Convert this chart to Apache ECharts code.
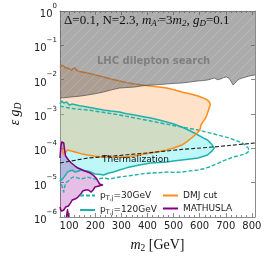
<!DOCTYPE html>
<html><head><meta charset="utf-8">
<script src="https://cdn.jsdelivr.net/npm/echarts@6/dist/echarts.min.js"></script>
<style>html,body{margin:0;padding:0;background:#fff}#c{width:266px;height:259px}</style>
</head><body><div id="c"></div>
<script>
// ---- data (m2 [GeV], eps*g_D) ----
const lhcBoundary = [[65,2.92e-3],[85,3.0e-3],[108,3.13e-3],[140,3.3e-3],[170,3.57e-3],[200,3.9e-3],[232,4.37e-3],[260,5.0e-3],[293,5.71e-3],[320,5.9e-3],[351,6.1e-3],[380,6.6e-3],[413,7.0e-3],[445,7.2e-3],[474,7.5e-3],[505,7.8e-3],[532,8.0e-3],[565,8.6e-3],[594,9.2e-3],[615,9.4e-3],[630,9.8e-3],[645,1.05e-2],[656,1.12e-2],[668,1.0e-2],[681,1.05e-2],[692,1.15e-2],[703,1.2e-2],[712,1.1e-2],[717,9.8e-3],[723,8.2e-3],[728,7.0e-3],[733,7.6e-3],[739,8.6e-3],[746,9.8e-3],[753,1.05e-2],[764,1.12e-2],[777,1.2e-2],[790,1.28e-2],[812,1.37e-2]];
const lhcTop = 1;
const dmjCut = [[65,0.0234],[72,0.026],[79.5,0.025],[86,0.022],[94,0.0218],[101,0.0205],[108.5,0.019],[115,0.021],[123,0.0219],[128,0.019],[134,0.0179],[150,0.0168],[170,0.0156],[200,0.0138],[232,0.0120],[260,0.0105],[293,0.00914],[320,0.0082],[351,0.00748],[380,0.0070],[413,0.00654],[445,0.0061],[474,0.00571],[505,0.0050],[532,0.00437],[565,0.0038],[594,0.00334],[615,0.0029],[630,0.00255],[638,0.0022],[641,0.00183],[636,0.0015],[634,0.00131],[628,9.5e-4],[623,7.64e-4],[612,5.8e-4],[605,4.78e-4],[603,4.0e-4],[601,3.42e-4],[587,2.61e-4],[569,2.0e-4],[550,1.55e-4],[532,1.25e-4],[500,1.02e-4],[474,8.93e-5],[440,7.9e-5],[413,7.31e-5],[380,6.6e-5],[351,5.97e-5],[320,5.7e-5],[293,5.58e-5],[260,5.5e-5],[232,5.58e-5],[200,5.9e-5],[170,6.38e-5],[145,7.0e-5],[123,7.81e-5],[105,8.5e-5],[94,8.93e-5],[86,7.5e-5],[79.5,6.8e-5],[75,7.8e-5],[72,8.93e-5],[65,1.02e-4]];
const pT120 = [[65,1.96e-3],[72,2.39e-3],[79.5,2.09e-3],[90,2.23e-3],[101,1.83e-3],[112,1.95e-3],[140,1.75e-3],[170,1.6e-3],[200,1.45e-3],[232,1.31e-3],[260,1.22e-3],[293,1.14e-3],[320,1.02e-3],[351,9.3e-4],[380,8.5e-4],[413,7.64e-4],[445,6.7e-4],[474,5.86e-4],[505,5.0e-4],[532,4.18e-4],[565,3.2e-4],[594,2.44e-4],[612,2.05e-4],[630,1.75e-4],[645,1.35e-4],[656,1.02e-4],[648,8.4e-5],[630,6.38e-5],[594,5.22e-5],[565,4.9e-5],[532,4.57e-5],[500,4.3e-5],[474,4.0e-5],[445,3.85e-5],[413,3.74e-5],[380,3.4e-5],[351,3.05e-5],[320,2.7e-5],[293,2.34e-5],[270,2.05e-5],[253,1.91e-5],[232,1.67e-5],[215,1.75e-5],[199,1.79e-5],[185,2.0e-5],[170,2.19e-5],[158,2.2e-5],[145,2.34e-5],[135,2.15e-5],[123,2.04e-5],[112,2.3e-5],[101,2.18e-5],[93,2.0e-5],[86.7,1.67e-5],[79,1.4e-5],[72,1.19e-5],[65,1.37e-5]];
const pT30 = [[65,1.7e-3],[90,1.55e-3],[120,1.42e-3],[170,1.31e-3],[230,1.12e-3],[293,9.35e-4],[350,7.7e-4],[413,6.25e-4],[470,5.1e-4],[532,4.18e-4],[594,3.42e-4],[656,2.61e-4],[713,2.0e-4],[764,1.43e-4],[786,1.02e-4],[790,8.36e-5],[775,6.83e-5],[746,6.0e-5],[728,5.6e-5],[710,4.89e-5],[690,4.3e-5],[674,3.74e-5],[655,3.3e-5],[637,2.86e-5],[615,2.55e-5],[594,2.34e-5],[565,2.2e-5],[532,2.04e-5],[500,2.0e-5],[474,2.04e-5],[445,1.95e-5],[413,1.91e-5],[380,1.8e-5],[351,1.67e-5],[320,1.55e-5],[293,1.46e-5],[270,1.35e-5],[253,1.28e-5],[232,1.37e-5],[215,1.3e-5],[199,1.28e-5],[185,1.35e-5],[170,1.46e-5],[158,1.35e-5],[145,1.28e-5],[130,1.4e-5],[115.7,1.46e-5],[105,1.3e-5],[97.6,1.12e-5],[86.7,9.8e-6],[82,7.0e-6],[79.5,5.34e-6],[75,7.0e-6],[72,8.54e-6],[65,1.19e-5]];
const mathusla = [[65,5.22e-5],[68.6,1.17e-4],[72,1.53e-4],[79.5,1.43e-4],[83,8.93e-5],[86.7,5.97e-5],[97.6,4.57e-5],[108.5,3.74e-5],[123,3.05e-5],[134,2.67e-5],[152,2.34e-5],[170,2.04e-5],[181,1.91e-5],[192,1.67e-5],[203,1.37e-5],[210,1.12e-5],[217,9.14e-6],[228,8.54e-6],[214,8.0e-6],[199,7.47e-6],[192,6.11e-6],[184.6,5.34e-6],[174,6.11e-6],[163,6.11e-6],[152,5.71e-6],[145,4.67e-6],[134,3.82e-6],[123,3.34e-6],[112,3.12e-6],[105,2.55e-6],[97.6,2.09e-6],[86.7,1.95e-6],[79.5,1.6e-6],[72,1.49e-6],[68.6,1.6e-6],[65,1.95e-6]];
const mathuslaIsland = [[90,1.0e-6],[92,1.31e-6],[94,1.62e-6],[96,1.31e-6],[97.6,1.0e-6]];
const thermalization = [[65,3.74e-5],[170,5.2e-5],[293,6.2e-5],[413,7.5e-5],[532,9.3e-5],[656,1.1e-4],[812,1.43e-4]];
const xRange = [65, 812];
const yRange = [1e-6, 1];
const legendNames = ['pT30', 'pT120', 'DMJ cut', 'MATHUSLA'];

// ---- styling ----
const TEAL = '#1fb2ac', ORANGE = '#ff8c1a', PURPLE = '#800080';
function hatch(){
  const c = document.createElement('canvas'); c.width = 10; c.height = 10;
  const g = c.getContext('2d');
  g.fillStyle = 'rgba(95,95,95,0.52)'; g.fillRect(0,0,10,10);
  g.strokeStyle = 'rgba(255,255,255,0.2)'; g.lineWidth = 0.8;
  g.beginPath(); g.moveTo(0,10); g.lineTo(10,0); g.moveTo(-2,2); g.lineTo(2,-2); g.moveTo(8,12); g.lineTo(12,8); g.stroke();
  return c;
}
const hatchImg = hatch();

function polySeries(pts, fill){
  return {type:'custom', coordinateSystem:'cartesian2d', clip:true, silent:true, data: pts,
    renderItem: function(params, api){
      if (params.dataIndex !== 0) return;
      return {type:'polygon', shape:{points: pts.map(p => api.coord(p))}, style:{fill: fill}};
    }};
}
function lineSeries(pts, color, width, dash){
  return {type:'custom', coordinateSystem:'cartesian2d', clip:true, silent:true, data: pts,
    renderItem: function(params, api){
      if (params.dataIndex !== 0) return;
      return {type:'polyline', shape:{points: pts.map(p => api.coord(p))},
        style:{stroke: color, lineWidth: width, fill: null, lineDash: dash || null, lineJoin:'round'}};
    }};
}
function legendSeries(name, color, dash){
  return {name:name, type:'line', data:[[-1000, 1e-9]], symbol:'none', showSymbol:false, clip:true, silent:true,
    lineStyle:{color:color, width:1.5, type: dash || 'solid'}, itemStyle:{color:color, opacity:0}};
}
const lhcPoly = [[xRange[0], lhcTop]].concat(lhcBoundary, [[xRange[1], lhcTop]]);

const chart = echarts.init(document.getElementById('c'), null, {renderer:'canvas'});
const axisCol = '#8a8a8a';
const tickFont = {fontFamily:'DejaVu Sans', fontSize:10, color:'#222'};
const rich9 = {
  a:{fontFamily:'DejaVu Sans', fontSize:9, color:'#222'},
  s:{fontFamily:'DejaVu Sans', fontSize:6.5, color:'#222', padding:[5,0,0,0]}
};
const legendLabel = {pT30:'{a|p}{s|T,j}{a|=30GeV}', pT120:'{a|p}{s|T,j}{a|=120GeV}', 'DMJ cut':'{a|DMJ cut}', MATHUSLA:'{a|MATHUSLA}'};
const legendCommon = {orient:'vertical', top:191, itemGap:4, itemWidth:15, itemHeight:10, selectedMode:false,
  formatter: n => legendLabel[n], textStyle:{rich:rich9}, padding:0, itemStyle:{opacity:0}};

chart.setOption({
  animation:false,
  grid:{left:48, right:11, top:11, bottom:42},
  xAxis:[{type:'value', min:xRange[0], max:xRange[1], splitNumber:7,
    name:'{i|m}{sub|2}{r| [GeV]}', nameLocation:'middle', nameGap:20,
    nameTextStyle:{rich:{
      i:{fontFamily:'Liberation Serif', fontStyle:'italic', fontSize:14, color:'#111'},
      sub:{fontFamily:'Liberation Serif', fontSize:9.5, color:'#111', padding:[6,0,0,0]},
      r:{fontFamily:'Liberation Serif', fontSize:14, color:'#111'}}},
    axisLine:{show:true, onZero:false, lineStyle:{color:axisCol, width:1}},
    axisTick:{show:true, inside:true, length:4, lineStyle:{color:axisCol}},
    minorTick:{show:true, splitNumber:5, length:2, lineStyle:{color:axisCol}},
    splitLine:{show:false},
    axisLabel:Object.assign({margin:4, showMinLabel:false, showMaxLabel:false,
      formatter: v => (v % 100 === 0 ? String(v) : '')}, tickFont)},
   {type:'value', position:'top', min:xRange[0], max:xRange[1], splitNumber:7,
    axisLine:{show:true, onZero:false, lineStyle:{color:axisCol, width:1}},
    axisTick:{show:true, inside:true, length:4, lineStyle:{color:axisCol}},
    minorTick:{show:true, splitNumber:5, length:2, lineStyle:{color:axisCol}},
    splitLine:{show:false}, axisLabel:{show:false}}],
  yAxis:[{type:'log', logBase:10, min:yRange[0], max:yRange[1], splitNumber:6,
    name:'{i|ε} {i|g}{sub|D}', nameLocation:'middle', nameGap:29,
    nameTextStyle:{rich:{
      i:{fontFamily:'Liberation Serif', fontStyle:'italic', fontSize:14, color:'#111'},
      sub:{fontFamily:'Liberation Serif', fontStyle:'italic', fontSize:9.5, color:'#111', padding:[6,0,0,0]}}},
    axisLine:{show:true, onZero:false, lineStyle:{color:axisCol, width:1}},
    axisTick:{show:true, inside:true, length:4, lineStyle:{color:axisCol}},
    splitLine:{show:false},
    axisLabel:{margin:3, formatter: function(v){ const e = Math.round(Math.log10(v)); return '{b|10}{s|' + (e < 0 ? '\u2212' + (-e) : e) + '}'; },
      rich:{b:{fontFamily:'DejaVu Sans', fontSize:10, color:'#222', padding:[7,0,0,0]},
            s:{fontFamily:'DejaVu Sans', fontSize:7, color:'#222', verticalAlign:'top'}}}},
   {type:'log', logBase:10, position:'right', min:yRange[0], max:yRange[1], splitNumber:6,
    axisLine:{show:true, onZero:false, lineStyle:{color:axisCol, width:1}},
    axisTick:{show:true, inside:true, length:4, lineStyle:{color:axisCol}},
    splitLine:{show:false}, axisLabel:{show:false}}],
  legend:[
    Object.assign({data:['pT30','pT120'], left:79}, legendCommon),
    Object.assign({data:['DMJ cut','MATHUSLA'], left:162}, legendCommon)
  ],
  graphic:[
    {type:'text', left:64, top:14, z:100, style:{
      text:'{r|\u0394=0.1, N=2.3, }{i|m}{sub|A\u2032}{r|=3}{i|m}{sub|2}{r|, }{i|g}{sub|D}{r|=0.1}',
      rich:{r:{fontFamily:'Liberation Serif', fontSize:13, fill:'#111'},
            i:{fontFamily:'Liberation Serif', fontStyle:'italic', fontSize:13, fill:'#111'},
            sub:{fontFamily:'Liberation Serif', fontStyle:'italic', fontSize:9, fill:'#111', padding:[6,0,0,0]}}}},
    {type:'text', left:97, top:56, z:100, style:{text:'LHC dilepton search', fontFamily:'DejaVu Sans', fontWeight:'bold', fontSize:10, fill:'#7f7f7f'}},
    {type:'text', left:102, top:155, z:100, style:{text:'Thermalization', fontFamily:'DejaVu Sans', fontSize:9, fill:'#111'}}
  ],
  series:[
    polySeries(pT120, 'rgba(20,225,225,0.28)'),
    polySeries(dmjCut, 'rgba(255,150,60,0.28)'),
    polySeries(mathusla, 'rgba(150,0,150,0.25)'),
    polySeries(mathuslaIsland, 'rgba(150,0,150,0.25)'),
    lineSeries(pT30, TEAL, 1.4, [4,2]),
    lineSeries(pT120, TEAL, 1.5),
    lineSeries(dmjCut, ORANGE, 1.5),
    lineSeries(mathusla, PURPLE, 1.5),
    lineSeries(mathuslaIsland, PURPLE, 1.5),
    polySeries(lhcPoly, {image: hatchImg, repeat:'repeat'}),
    lineSeries(lhcBoundary, 'rgba(80,80,80,0.8)', 0.9),
    lineSeries(thermalization, '#222', 1.1, [4,2]),
    legendSeries('pT30', TEAL, [4,2]),
    legendSeries('pT120', TEAL),
    legendSeries('DMJ cut', ORANGE),
    legendSeries('MATHUSLA', PURPLE)
  ]
});
</script></body></html>
